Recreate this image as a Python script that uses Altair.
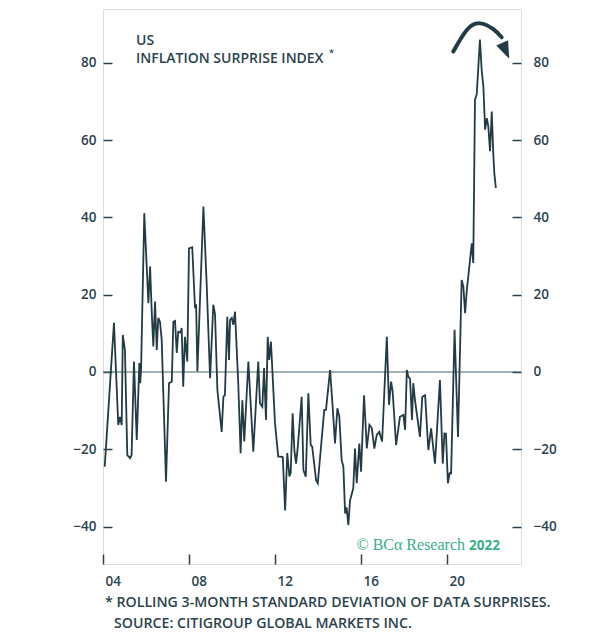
import altair as alt
import pandas as pd

# ---- data ----
years = [2004.08, 2004.51, 2004.71, 2004.79, 2004.87, 2004.92, 2005.02, 2005.13, 2005.26, 2005.33,
         2005.44, 2005.57, 2005.69, 2005.73, 2005.77, 2005.92, 2006.11, 2006.19, 2006.27, 2006.34,
         2006.42, 2006.50, 2006.57, 2006.65, 2006.73, 2006.93, 2007.07, 2007.20, 2007.27, 2007.35,
         2007.43, 2007.50, 2007.61, 2007.66, 2007.73, 2007.81, 2007.92, 2008.00, 2008.15, 2008.28,
         2008.33, 2008.39, 2008.67, 2008.82, 2008.98, 2009.13, 2009.21, 2009.32, 2009.52, 2009.60,
         2009.67, 2009.78, 2009.86, 2009.91, 2009.99, 2010.06, 2010.14, 2010.29, 2010.40, 2010.48,
         2010.57, 2010.76, 2010.99, 2011.22, 2011.30, 2011.41, 2011.49, 2011.58, 2011.66, 2011.73,
         2011.81, 2012.00, 2012.15, 2012.23, 2012.36, 2012.47, 2012.57, 2012.67, 2012.73, 2012.82,
         2012.90, 2012.98, 2013.06, 2013.24, 2013.32, 2013.43, 2013.55, 2013.66, 2013.73, 2013.91,
         2013.99, 2014.29, 2014.37, 2014.56, 2014.68, 2014.79, 2014.90, 2014.99, 2015.10, 2015.18,
         2015.26, 2015.33, 2015.41, 2015.49, 2015.64, 2015.72, 2015.80, 2015.92, 2016.00, 2016.14,
         2016.27, 2016.39, 2016.50, 2016.62, 2016.73, 2016.85, 2016.98, 2017.20, 2017.30, 2017.40,
         2017.47, 2017.63, 2017.81, 2017.97, 2018.05, 2018.13, 2018.20, 2018.28, 2018.37, 2018.43,
         2018.51, 2018.74, 2018.85, 2018.98, 2019.13, 2019.26, 2019.44, 2019.67, 2019.80, 2019.88,
         2019.95, 2020.04, 2020.12, 2020.19, 2020.35, 2020.51, 2020.68, 2020.76, 2020.84, 2020.92,
         2021.07, 2021.15, 2021.22, 2021.30, 2021.38, 2021.53, 2021.61, 2021.69, 2021.77, 2021.85,
         2021.92, 2022.00, 2022.08, 2022.15, 2022.20, 2022.27]
values = [-24.5, 12.7, -13.7, -11.6, -13.7, 9.6, 5.7, -21.5, -22.3, -21.5,
          2.7, -17.6, 2.3, -2.9, 0.5, 41.1, 17.8, 27.3, 15.0, 6.6,
          18.2, 5.7, 14.0, 13.0, 8.3, -28.4, -2.9, -2.5, 13.0, 13.2,
          4.9, 10.4, 10.2, 11.4, -3.8, 9.1, 2.7, 32.0, 32.3, 16.5,
          17.5, 0.1, 42.8, 23.0, -1.6, 17.4, 15.0, -4.7, -15.5, -6.4,
          -6.0, 14.3, 3.1, 13.5, 14.0, 12.2, 15.6, -2.9, -21.0, -7.3,
          -18.0, 2.7, -20.6, 2.7, -8.1, -9.0, 1.0, -12.4, 9.1, 3.1,
          7.9, -13.3, -21.9, -21.9, -22.0, -35.8, -21.0, -27.0, -26.0, -10.7,
          -20.2, -23.7, -19.3, -6.4, -25.4, -27.1, -5.5, -18.9, -19.3, -28.0,
          -28.8, -9.8, -9.8, 0.5, -9.0, -18.5, -9.4, -11.5, -22.8, -24.5,
          -36.6, -35.0, -39.6, -33.2, -30.1, -19.8, -28.8, -18.5, -25.8, -6.0,
          -19.8, -13.7, -14.5, -19.8, -16.3, -15.5, -18.0, 9.1, -8.5, -2.5,
          -5.0, -18.9, -11.6, -11.1, -15.0, 0.5, -1.2, -1.8, -12.4, -2.9,
          -7.3, -16.8, -6.4, -6.0, -20.2, -14.6, -23.7, -2.1, -23.7, -15.9,
          -16.0, -28.8, -26.2, -26.2, 10.9, -16.8, 23.8, 22.1, 15.2, 21.2,
          29.0, 33.3, 28.2, 70.5, 71.8, 86.0, 78.2, 73.9, 62.7, 65.7,
          63.5, 57.1, 67.4, 56.6, 51.4, 47.6]

arc_years = [2020.29, 2020.92, 2021.53, 2022.15, 2022.54]
arc_values = [82.9, 88.5, 90.2, 88.7, 86.6]
head_years = [2022.72]
head_values = [83.2]

y_ticks = [-40, -20, 0, 20, 40, 60, 80]
x_ticks = [2004, 2008, 2012, 2016, 2020]
x_labels = ["04", "08", "12", "16", "20"]

title_lines = ["US", "INFLATION SURPRISE INDEX"]
footnotes = ["* ROLLING 3-MONTH STANDARD DEVIATION OF DATA SURPRISES.",
             "SOURCE: CITIGROUP GLOBAL MARKETS INC."]

# ---- style ----
INK = "#2b434d"
LINE = "#223b45"
GREEN = "#3aae88"
FONT = "Open Sans"
W, H = 418, 555

df = pd.DataFrame({"year": years, "value": values})
arc_df = pd.DataFrame({"year": arc_years, "value": arc_values})
head_df = pd.DataFrame({"year": head_years, "value": head_values})
zero_df = pd.DataFrame({"value": [0]})

xscale = alt.Scale(domain=[2004, 2023.44], nice=False, zero=False)
yscale = alt.Scale(domain=[-49.68, 93.92], nice=False, zero=False)

label_expr = " : ".join(
    [f"datum.value == {v} ? '{l}'" for v, l in zip(x_ticks, x_labels)]
) + " : ''"

common_axis = dict(title=None, domain=False, grid=False, tickColor=INK, tickWidth=1.5,
                   labelFont=FONT, labelFontSize=13.5, labelFontWeight=600, labelColor=INK)

x_axis = alt.Axis(values=x_ticks, orient="bottom", tickSize=10, offset=-10,
                  labelAlign="left", labelOffset=2, labelPadding=10, labelBaseline="top",
                  labelExpr=label_expr, **common_axis)
left_axis = alt.Axis(values=y_ticks, orient="left", tickSize=9, offset=-9,
                     labelPadding=7, **common_axis)
right_axis = alt.Axis(values=y_ticks, orient="right", tickSize=9, offset=-9,
                      labelPadding=12, **common_axis)

line = alt.Chart(df).mark_line(color=LINE, strokeWidth=1.8, clip=True).encode(
    x=alt.X("year:Q", scale=xscale, axis=x_axis),
    y=alt.Y("value:Q", scale=yscale, axis=left_axis),
)

zero = alt.Chart(zero_df).mark_rule(color="#4d646d", strokeWidth=1).encode(
    y=alt.Y("value:Q", scale=yscale, axis=right_axis),
)

arc = alt.Chart(arc_df).mark_line(color=LINE, strokeWidth=4, interpolate="natural",
                                   strokeCap="round").encode(
    x=alt.X("year:Q", scale=xscale, axis=x_axis),
    y=alt.Y("value:Q", scale=yscale, axis=None),
)

head = alt.Chart(head_df).mark_point(
    shape="M0,-1L0.7,0.9L-0.7,0.9Z", filled=True, color=LINE, opacity=1,
    size=340, angle=156,
).encode(
    x=alt.X("year:Q", scale=xscale, axis=x_axis),
    y=alt.Y("value:Q", scale=yscale, axis=None),
)

def text_layer(txt, x, y, **kw):
    return alt.Chart(pd.DataFrame({"t": [txt]})).mark_text(
        align=kw.pop("align", "left"), baseline="alphabetic", **kw
    ).encode(text="t:N", x=alt.value(x), y=alt.value(y))

TXT = dict(font=FONT, fontSize=14.2, fontWeight=600, color=INK)
TTL = dict(font=FONT, fontSize=14, fontWeight=600, color=INK)
t1 = text_layer(title_lines[0], 33, 36, **TTL)
t2 = text_layer(title_lines[1], 33, 54, **TTL)
t3 = text_layer("*", 226, 47, font=FONT, fontSize=9, fontWeight=600, color=INK)
f1 = text_layer(footnotes[0], 2, 598, **TXT)
f2 = text_layer(footnotes[1], 11, 619, **TXT)
w1 = text_layer("\u00a9 BC\u03b1 Research", 362, 541, align="right",
                font="Liberation Serif", fontSize=16, color=GREEN)
w2 = text_layer("2022", 366, 541, font=FONT, fontSize=13.5, fontWeight=700, color=GREEN)

chart = alt.layer(zero, line, arc, head, t1, t2, t3, f1, f2, w1, w2).resolve_scale(
    y="shared"
).resolve_axis(y="independent").properties(
    width=W, height=H,
    autosize=alt.AutoSizeParams(type="none"),
    padding={"left": 95, "top": 1, "right": 65, "bottom": 70},
).configure_view(
    stroke=INK, strokeWidth=2
).configure(background="white")

chart.save("out.html", embed_options={"renderer": "svg", "actions": False})
